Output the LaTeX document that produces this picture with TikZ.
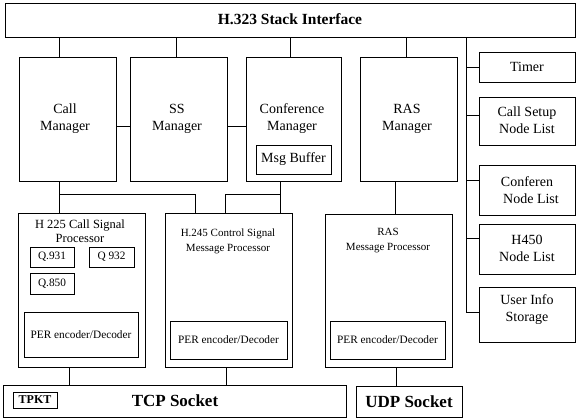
\documentclass[tikz,border=0pt]{standalone}
\usepackage{fontspec}
\setmainfont{Liberation Serif}
\begin{document}
\begin{tikzpicture}[x=1pt,y=-1pt,line width=0.9pt,
  box/.style={draw,rectangle,inner sep=0pt,anchor=north west},
  big/.style={font=\fontsize{14}{17}\selectfont,align=center,inner sep=0pt},
  mid/.style={font=\fontsize{12.5}{13.5}\selectfont,align=center,inner sep=0pt},
  small/.style={font=\fontsize{11}{15}\selectfont,align=center,inner sep=0pt},
  per/.style={font=\fontsize{11.3}{13}\selectfont,inner sep=0pt},
  bold/.style={font=\fontsize{17}{19}\selectfont\bfseries,inner sep=0pt}]
\useasboundingbox (0,0) rectangle (576,418);
% top bar
\node[box,minimum width=570,minimum height=34] (top) at (5,3) {};
\node[font=\fontsize{15.5}{18}\selectfont\bfseries,inner sep=0pt] (topt) at (290,19) {H.323 Stack Interface};
% managers
\node[box,minimum width=97,minimum height=124] (callm) at (19,57) {};
\node[box,minimum width=97,minimum height=124] (ssm) at (130,57) {};
\node[box,minimum width=95,minimum height=124] (confm) at (246,57) {};
\node[box,minimum width=97,minimum height=124] (rasm) at (360,57) {};
\node[big] (callmt) at (65,119) {Call\\Manager};
\node[big] (ssmt) at (177,119) {SS\\Manager};
\node[big] (confmt) at (292,119) {Conference\\Manager};
\node[big] (rasmt) at (407,119) {RAS\\Manager};
\node[box,minimum width=75,minimum height=29] (msgb) at (256,145) {};
\node[big] (msgbt) at (293.5,159.5) {Msg Buffer};
% right column
\node[box,minimum width=96,minimum height=30] (timer) at (479,52) {};
\node[box,minimum width=96,minimum height=48] (csnl) at (479,97) {};
\node[box,minimum width=96,minimum height=50] (cnl) at (479,165) {};
\node[box,minimum width=96,minimum height=50] (h450) at (479,224) {};
\node[box,minimum width=96,minimum height=55] (uis) at (479,287) {};
\node[big] (timert) at (527,67) {Timer};
\node[big] (csnlt) at (527,120) {Call Setup\\Node List};
\node[big] (cnlt) at (527,190) {Conferen\\\hspace*{8pt}Node List};
\node[big] (h450t) at (527,248) {H450\\Node List};
\node[big] (uist) at (527,310) {User Info\\Storage};
% lower processors
\node[box,minimum width=127,minimum height=154] (h225) at (18,213) {};
\node[mid] (h225t) at (80,231) {H 225 Call Signal\\Processor};
\node[box,minimum width=44,minimum height=20] (q931) at (30,247) {};
\node[box,minimum width=45,minimum height=20] (q932) at (89,247) {};
\node[box,minimum width=44,minimum height=21] (q850) at (30,273) {};
\node[per] (q931t) at (52,257) {Q.931};
\node[per] (q932t) at (111.5,257) {Q 932};
\node[per] (q850t) at (52,283.5) {Q.850};
\node[box,minimum width=114,minimum height=45] (per1) at (24,312) {};
\node[per] (per1t) at (81,335) {PER encoder/Decoder};
\node[box,minimum width=127,minimum height=154] (h245) at (165,213) {};
\node[small] (h245t) at (228,241) {H.245 Control Signal\\Message Processor};
\node[box,minimum width=117,minimum height=38] (per2) at (170,321) {};
\node[per] (per2t) at (228.5,340) {PER encoder/Decoder};
\node[box,minimum width=127,minimum height=153] (rasmp) at (325,214) {};
\node[small] (rasmpt) at (388,241) {RAS\\Message Processor};
\node[box,minimum width=115,minimum height=38] (per3) at (330,321) {};
\node[per] (per3t) at (387.5,340) {PER encoder/Decoder};
% sockets
\node[box,minimum width=343,minimum height=32] (tcp) at (3,385) {};
\node[box,minimum width=44,minimum height=16] (tpkt) at (13,392) {};
\node[font=\fontsize{12}{14}\selectfont\bfseries,inner sep=0pt] (tpktt) at (35,400) {TPKT};
\node[bold] (tcpt) at (175,401) {TCP Socket};
\node[box,minimum width=106,minimum height=31] (udp) at (356,386) {};
\node[bold] (udpt) at (409,401.5) {UDP Socket};
% connectors: top bar to managers
\draw ([xshift=40]callm.north west) -- ([xshift=40]callm.north west |- top.south);
\draw ([xshift=46]ssm.north west) -- ([xshift=46]ssm.north west |- top.south);
\draw ([xshift=44]confm.north west) -- ([xshift=44]confm.north west |- top.south);
\draw ([xshift=46]rasm.north west) -- ([xshift=46]rasm.north west |- top.south);
% between managers
\draw ([yshift=-69]callm.north east) -- ([yshift=-69]ssm.north west);
\draw ([yshift=-69]ssm.north east) -- ([yshift=-69]confm.north west);
% right column
\coordinate (vtop) at ([xshift=-13]timer.west |- top.south);
\draw (vtop) -- ([yshift=-25]uis.north west -| vtop);
\draw ([yshift=-15]timer.north west) -- ([yshift=-15]timer.north west -| vtop);
\draw ([yshift=-18]csnl.north west) -- ([yshift=-18]csnl.north west -| vtop);
\draw ([yshift=-15]cnl.north west) -- ([yshift=-15]cnl.north west -| vtop);
\draw ([yshift=-14]h450.north west) -- ([yshift=-14]h450.north west -| vtop);
\draw ([yshift=-25]uis.north west) -- ([yshift=-25]uis.north west -| vtop);
% managers to processors
\draw ([xshift=40]callm.south west) -- ([xshift=40]callm.south west |- h225.north);
\coordinate (j1) at ([xshift=40,yshift=-13]callm.south west);
\draw (j1) -| ([xshift=30]h245.north west);
\draw ([xshift=34]confm.south west) -- ([xshift=34]confm.south west |- h245.north);
\coordinate (j2) at ([xshift=34,yshift=-13]confm.south west);
\draw (j2) -| ([xshift=60]h245.north west);
\draw ([xshift=35]rasm.south west) -- ([xshift=35]rasm.south west |- rasmp.north);
% processors to sockets
\draw ([xshift=51]h225.south west) -- ([xshift=51]h225.south west |- tcp.north);
\draw ([xshift=61]h245.south west) -- ([xshift=61]h245.south west |- tcp.north);
\draw ([xshift=71]rasmp.south west) -- ([xshift=71]rasmp.south west |- udp.north);
\end{tikzpicture}
\end{document}
